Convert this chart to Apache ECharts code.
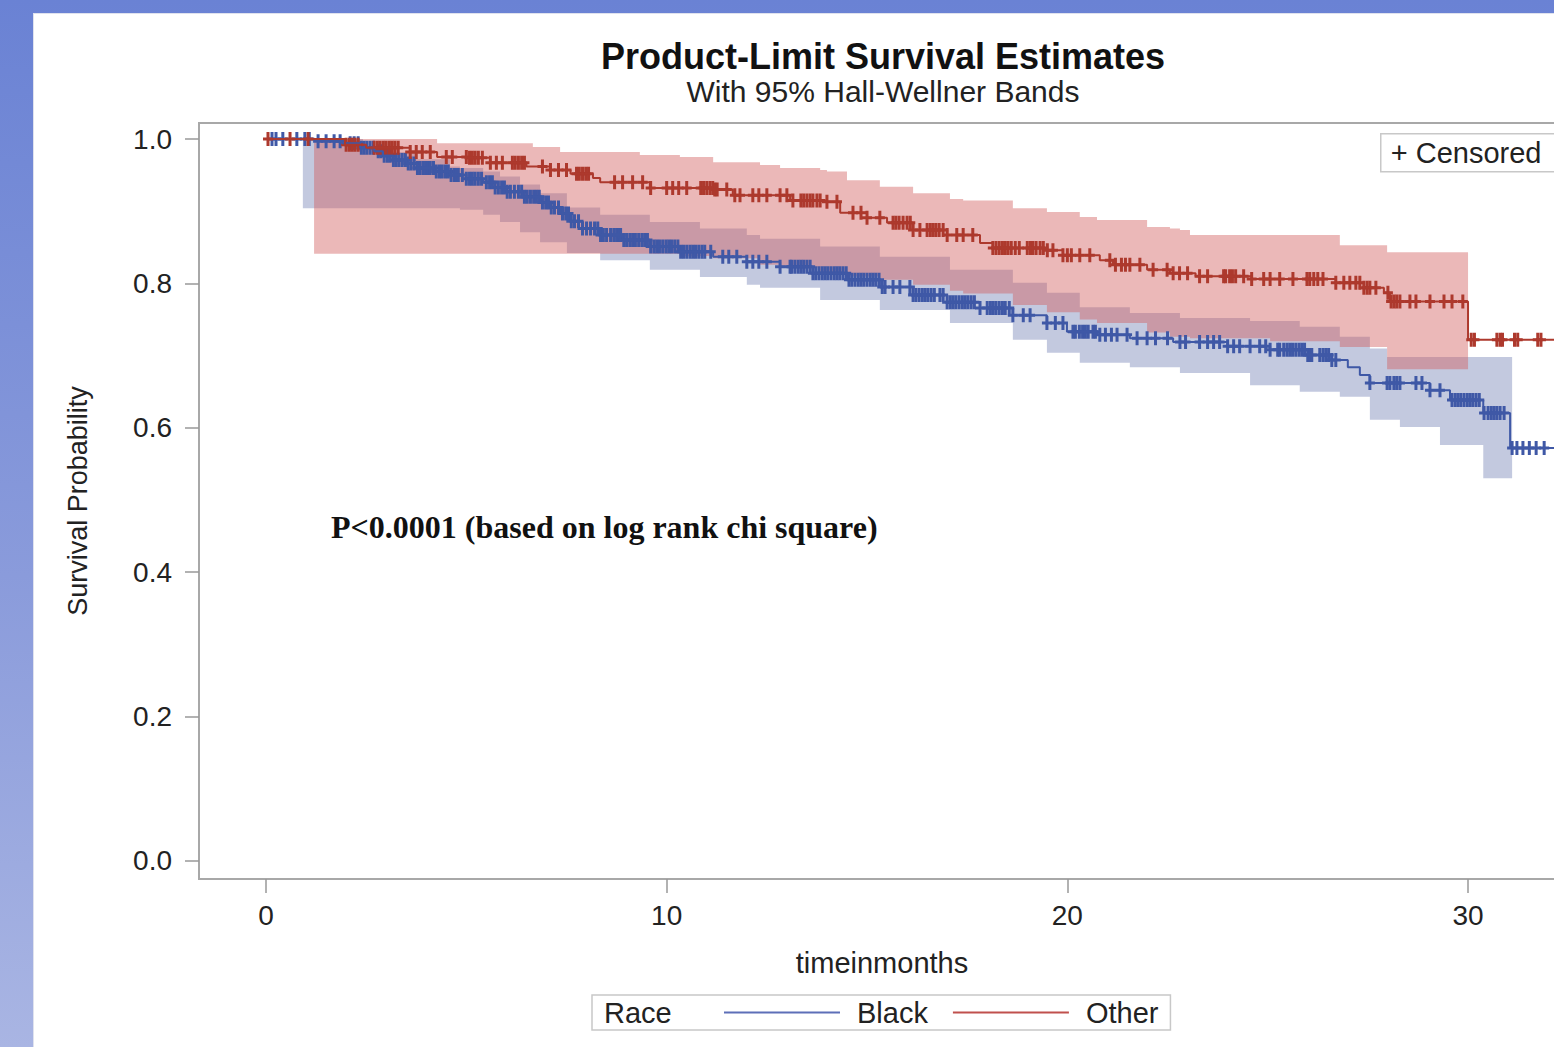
<!DOCTYPE html>
<html><head><meta charset="utf-8">
<script src="https://cdn.jsdelivr.net/npm/echarts@6/dist/echarts.min.js"></script>
<style>
html,body{margin:0;padding:0;width:1554px;height:1047px;overflow:hidden;}
body{background:linear-gradient(to bottom,#6a82d4 0%,#8a9bdb 55%,#a9b5e3 100%);}
#panel{position:absolute;left:33px;top:13px;right:0;bottom:0;background:#fff;border-left:1px solid #dfe2ee;border-top:1px solid #dfe2ee;}
#chart{position:absolute;left:0;top:0;width:1554px;height:1047px;}
</style></head><body><div id="panel"></div><div id="chart"></div>
<script>
// ---- Data ----
const xTicks = [0, 10, 20, 30];
const yTicks = [0, 0.2, 0.4, 0.6, 0.8, 1.0];

// Black: Kaplan-Meier step points (time in months, survival)
const blackTimes = [0, 1.3, 1.9, 2.35, 2.7, 2.92, 3.17, 3.5, 3.77, 4.2, 4.59, 5.0, 5.42, 5.7, 6.0, 6.4, 6.84, 7.1, 7.34, 7.6, 7.9, 8.34, 8.9, 9.58, 10.33, 11.16, 12.0, 12.83, 13.65, 14.5, 15.32, 16.15, 17.0, 17.82, 18.64, 19.49, 19.99, 20.74, 21.56, 22.64, 24.0, 25.06, 26.0, 26.55, 27.0, 27.3, 27.55, 29.05, 29.55, 30.38, 31.05, 32.3];
const blackSurv  = [1.0, 0.997, 0.994, 0.988, 0.983, 0.977, 0.971, 0.966, 0.960, 0.955, 0.950, 0.945, 0.940, 0.933, 0.927, 0.920, 0.912, 0.905, 0.897, 0.886, 0.876, 0.867, 0.860, 0.851, 0.844, 0.837, 0.830, 0.823, 0.814, 0.805, 0.795, 0.784, 0.774, 0.766, 0.756, 0.745, 0.733, 0.729, 0.724, 0.719, 0.713, 0.708, 0.701, 0.694, 0.684, 0.673, 0.662, 0.652, 0.6385, 0.6205, 0.572, 0.572];
const blackCensored = [0.15, 0.25, 0.42, 0.77, 0.97, 1.08, 1.3, 1.5, 1.7, 1.85,
  2.1, 2.2, 2.3, 2.38, 2.45, 2.52, 2.6, 2.68, 2.8, 2.87, 2.95, 3.03, 3.1, 3.18, 3.25, 3.32, 3.4, 3.48, 3.55, 3.62, 3.7, 3.78, 3.85, 3.93, 4.0, 4.05, 4.1, 4.18, 4.25, 4.33, 4.4, 4.48, 4.55, 4.62, 4.7, 4.75, 4.8, 4.9, 5.0, 5.08, 5.15, 5.22, 5.3, 5.38, 5.5, 5.58, 5.65, 5.72, 5.8, 5.88, 5.95, 6.02, 6.1, 6.2, 6.3, 6.38, 6.45, 6.52, 6.6, 6.68, 6.75, 6.82, 6.9, 6.98, 7.05, 7.12, 7.2, 7.3, 7.4, 7.48, 7.55, 7.62, 7.7, 7.8, 7.9, 8.0, 8.1, 8.2, 8.28, 8.35, 8.42, 8.5, 8.6, 8.68, 8.75, 8.8, 8.85, 8.93, 9.0, 9.08, 9.15, 9.22, 9.3, 9.38, 9.45, 9.52, 9.6, 9.68, 9.75, 9.82, 9.9, 9.98, 10.05, 10.12, 10.2, 10.28, 10.35, 10.42, 10.5, 10.58, 10.65, 10.72, 10.8, 10.88, 10.95, 11.1,
  11.4, 11.55, 11.75, 12.0, 12.15, 12.3, 12.5, 12.83, 13.08, 13.12, 13.2, 13.28, 13.35, 13.42, 13.5, 13.58, 13.65, 13.72, 13.8, 13.88, 13.95, 14.02, 14.1, 14.18, 14.25, 14.32, 14.4, 14.48, 14.55, 14.62, 14.7, 14.78, 14.85, 14.92, 15.0, 15.08, 15.15, 15.22, 15.3, 15.38, 15.45, 15.65, 15.82, 16.07, 16.15, 16.22, 16.3, 16.38, 16.45, 16.52, 16.6, 16.68, 16.82, 16.9, 17.0, 17.08, 17.15, 17.22, 17.3, 17.38, 17.45, 17.52, 17.6, 17.68, 17.82, 18.0, 18.08, 18.15, 18.22, 18.3, 18.38, 18.45, 18.55, 18.64, 18.9, 19.07, 19.49, 19.7, 19.89, 20.14, 20.2, 20.3, 20.38, 20.45, 20.52, 20.64, 20.7, 20.81, 20.95, 21.1, 21.24, 21.49, 21.74, 21.99, 22.2, 22.5, 22.81,
  22.95, 23.3, 23.5, 23.65, 23.8, 24.0, 24.15, 24.3, 24.56, 24.8, 24.95, 25.06, 25.25, 25.3, 25.4, 25.48, 25.55, 25.62, 25.7, 25.78, 25.85, 25.92, 26.0, 26.05, 26.1, 26.3, 26.38, 26.45, 26.52, 26.6, 26.7, 27.55, 27.98, 28.05, 28.15, 28.22, 28.3, 28.7, 28.85, 29.05, 29.3, 29.6, 29.68, 29.75, 29.82, 29.9, 29.98, 30.05, 30.12, 30.2, 30.28, 30.4, 30.5, 30.58, 30.65, 30.72, 30.8, 30.9,
  31.1, 31.22, 31.37, 31.53, 31.7, 31.9];
// Black: Hall-Wellner band (step start times, lower, upper), band ends at blackBandEnd
const blackBandTimes = [0.92, 2.42, 2.92, 3.77, 4.59, 4.84, 5.42, 5.84, 6.34, 6.84, 7.51, 8.34, 9.58, 10.83, 12.0, 12.33, 13.83, 15.32, 17.07, 18.64, 19.49, 20.31, 21.56, 22.81, 24.56, 25.8, 26.8, 27.55, 27.98, 28.3, 29.3, 30.38];
const blackLower = [0.904, 0.904, 0.904, 0.904, 0.904, 0.902, 0.895, 0.885, 0.871, 0.857, 0.842, 0.832, 0.819, 0.809, 0.798, 0.794, 0.777, 0.763, 0.745, 0.722, 0.704, 0.690, 0.684, 0.676, 0.659, 0.650, 0.643, 0.611, 0.611, 0.601, 0.576, 0.530];
const blackUpper = [1.0, 0.99, 0.982, 0.972, 0.962, 0.960, 0.955, 0.948, 0.937, 0.925, 0.905, 0.895, 0.885, 0.876, 0.867, 0.862, 0.851, 0.837, 0.819, 0.801, 0.787, 0.767, 0.759, 0.752, 0.748, 0.740, 0.726, 0.710, 0.698, 0.698, 0.698, 0.698];
const blackBandEnd = 31.1;

// Other
const otherTimes = [0, 1.97, 2.5, 3.59, 4.27, 5.02, 5.59, 6.5, 7.1, 7.6, 8.16, 8.34, 9.58, 11.16, 11.65, 13.08, 14.0, 14.33, 15.0, 15.5, 16.15, 17.0, 17.82, 18.14, 19.49, 19.89, 20.81, 21.14, 21.99, 22.56, 23.2, 24.6, 26.7, 27.4, 27.9, 28.05, 30.0, 32.3];
const otherSurv  = [1.0, 0.992, 0.988, 0.982, 0.975, 0.974, 0.967, 0.962, 0.957, 0.952, 0.946, 0.940, 0.932, 0.930, 0.922, 0.915, 0.913, 0.898, 0.891, 0.884, 0.874, 0.867, 0.856, 0.849, 0.846, 0.839, 0.832, 0.826, 0.819, 0.814, 0.810, 0.806, 0.801, 0.794, 0.787, 0.775, 0.722, 0.722];
const otherCensored = [0.05, 0.6, 1.05, 2.0, 2.08, 2.15, 2.22, 2.3, 2.7, 2.78, 2.85, 2.93, 3.0, 3.08, 3.15, 3.22, 3.3, 3.6, 3.75, 3.9, 4.1, 4.5, 4.65, 5.0, 5.08, 5.15, 5.22, 5.3, 5.4, 5.6, 5.75, 5.9, 6.15, 6.22, 6.3, 6.38, 6.45, 6.9, 7.1, 7.3, 7.5, 7.75, 7.82, 7.9, 7.98, 8.05, 8.7, 8.9, 9.15, 9.4, 9.6, 10.0, 10.15, 10.3, 10.5, 10.85, 10.92, 11.0, 11.08, 11.15, 11.2, 11.26, 11.5, 11.7, 11.83, 12.15, 12.3, 12.5, 12.83, 13.0, 13.15, 13.35, 13.42, 13.5, 13.58, 13.65, 13.75, 13.83, 14.0, 14.25, 14.65, 14.85, 15.0, 15.32, 15.65, 15.72, 15.8, 15.9, 16.0, 16.08, 16.15, 16.32, 16.5, 16.58, 16.65, 16.72, 16.8, 16.9, 17.0, 17.24, 17.4, 17.64, 18.14, 18.22, 18.3, 18.38, 18.45, 18.52, 18.6, 18.7, 18.8, 19.0, 19.08, 19.14, 19.22, 19.32, 19.4, 19.5, 19.64, 19.89, 20.0, 20.1, 20.31, 20.56, 21.06, 21.2, 21.35, 21.45, 21.56, 21.81, 22.14, 22.49, 22.64, 22.8, 23.0, 23.3, 23.5, 23.9, 23.95, 24.05, 24.12, 24.2, 24.4, 24.6, 24.9, 25.06, 25.3, 25.63, 25.98, 26.05, 26.15, 26.25, 26.38, 26.7, 26.9, 27.05, 27.2, 27.3, 27.4, 27.48, 27.55, 27.7, 28.0, 28.08, 28.15, 28.22, 28.3, 28.55, 28.7, 29.05, 29.4, 29.6, 29.87, 30.08, 30.16, 30.72, 30.8, 30.86, 31.16, 31.24, 31.74, 31.82];
const otherBandTimes = [1.2, 4.27, 6.66, 7.34, 9.33, 10.33, 11.16, 12.33, 12.83, 13.83, 14.0, 14.5, 15.32, 16.15, 17.07, 17.4, 18.64, 19.49, 20.31, 20.74, 21.99, 22.56, 22.81, 23.06, 25.06, 26.8, 27.98];
const otherLower = [0.841, 0.841, 0.841, 0.841, 0.841, 0.838, 0.835, 0.826, 0.822, 0.815, 0.813, 0.810, 0.805, 0.798, 0.790, 0.786, 0.770, 0.760, 0.750, 0.745, 0.732, 0.726, 0.726, 0.724, 0.720, 0.712, 0.681];
const otherUpper = [1.0, 0.994, 0.989, 0.982, 0.978, 0.975, 0.968, 0.964, 0.960, 0.957, 0.955, 0.943, 0.934, 0.925, 0.917, 0.915, 0.904, 0.899, 0.892, 0.888, 0.878, 0.876, 0.874, 0.867, 0.867, 0.853, 0.843];
const otherBandEnd = 30.0;

// ---- Chart ----
const FONT = '"Liberation Sans", Arial, sans-serif';
const BLUE = '#3f58a6', RED = '#ad392d';
const BLUE_BAND = 'rgba(111,126,179,0.42)', RED_BAND = 'rgba(208,91,91,0.43)';
const PLUS = 'path://M3.5,0H6.5V5.5H10V8.5H6.5V14H3.5V8.5H0V5.5H3.5Z';

function survAt(times, surv, t) {
  let v = surv[0];
  for (let i = 0; i < times.length; i++) { if (times[i] <= t) v = surv[i]; else break; }
  return v;
}
function bandSeries(name, times, lower, upper, tEnd, color) {
  return {
    type: 'custom', name: name, silent: true,
    data: [[times[0], lower[0]]],
    renderItem: function (params, api) {
      if (params.dataIndex !== 0) return null;
      const pts = [];
      for (let i = 0; i < times.length; i++) {
        const t1 = i + 1 < times.length ? times[i + 1] : tEnd;
        pts.push(api.coord([times[i], upper[i]]), api.coord([t1, upper[i]]));
      }
      for (let i = times.length - 1; i >= 0; i--) {
        const t1 = i + 1 < times.length ? times[i + 1] : tEnd;
        pts.push(api.coord([t1, lower[i]]), api.coord([times[i], lower[i]]));
      }
      return { type: 'polygon', shape: { points: pts }, style: { fill: color } };
    }
  };
}
function kmLine(name, times, surv, color) {
  return { type: 'line', name: name, step: 'end', showSymbol: false, silent: true,
    data: times.map((t, i) => [t, surv[i]]),
    lineStyle: { color: color, width: 2 }, itemStyle: { color: color } };
}
function censSeries(name, cens, times, surv, color) {
  return { type: 'scatter', name: name, silent: true, symbol: PLUS, symbolSize: [10, 14],
    data: cens.map(t => [t, survAt(times, surv, t)]),
    itemStyle: { color: color, opacity: 1 } };
}

const chart = echarts.init(document.getElementById('chart'), null, { renderer: 'svg' });
chart.setOption({
  animation: false,
  backgroundColor: 'transparent',
  title: {
    text: 'Product-Limit Survival Estimates',
    subtext: 'With 95% Hall-Wellner Bands',
    left: 883, top: 38, textAlign: 'center', padding: 0, itemGap: 2,
    textStyle: { fontSize: 36, fontWeight: 'bold', color: '#111', fontFamily: FONT },
    subtextStyle: { fontSize: 30, color: '#222', fontFamily: FONT }
  },
  grid: { left: 199, top: 123, width: 1366, height: 756, show: true, borderColor: '#a8a8a8', borderWidth: 2, containLabel: false, outerBoundsMode: 'none' },
  xAxis: {
    type: 'value', min: -1.672, max: 32.42,
    splitLine: { show: false },
    axisLine: { show: true, onZero: false, lineStyle: { color: '#a8a8a8', width: 2 } },
    axisTick: { show: true, length: 14, customValues: xTicks, lineStyle: { color: '#999', width: 1.5 } },
    axisLabel: { customValues: xTicks, fontSize: 28, color: '#222', margin: 22, fontFamily: FONT },
    name: 'timeinmonths', nameLocation: 'middle', nameGap: 69,
    nameTextStyle: { fontSize: 29, color: '#222', fontFamily: FONT }
  },
  yAxis: {
    type: 'value', min: -0.025, max: 1.0222,
    splitLine: { show: false },
    axisLine: { show: true, onZero: false, lineStyle: { color: '#a8a8a8', width: 2 } },
    axisTick: { show: true, length: 14, customValues: yTicks, lineStyle: { color: '#999', width: 1.5 } },
    axisLabel: { customValues: yTicks, formatter: v => v.toFixed(1), fontSize: 28, color: '#222', margin: 27, fontFamily: FONT },
    name: 'Survival Probability', nameLocation: 'middle', nameGap: 108, nameRotate: 90,
    nameTextStyle: { fontSize: 27, color: '#222', fontFamily: FONT }
  },
  legend: {
    left: 592, top: 995, orient: 'horizontal', selectedMode: false,
    padding: [3, 12, 3, 132], borderColor: '#c8c8c8', borderWidth: 1.5, backgroundColor: '#fff',
    itemWidth: 116, itemHeight: 2, itemGap: 25,
    textStyle: { fontSize: 29, color: '#222', fontFamily: FONT, padding: [0, 0, 0, 12] },
    data: [{ name: 'Black', icon: 'rect', itemStyle: { color: '#5d6fb8' } }, { name: 'Other', icon: 'rect', itemStyle: { color: '#c0504d' } }]
  },
  graphic: [
    { type: 'text', left: 604, top: 998, z: 100, style: { text: 'Race', fontSize: 29, fill: '#222', fontFamily: FONT } },
    { type: 'group', left: 1380, top: 133, z: 100, children: [
      { type: 'rect', shape: { x: 0, y: 0, width: 200, height: 38 }, style: { fill: '#fff', stroke: '#c8c8c8', lineWidth: 1.5 } },
      { type: 'text', x: 10, y: 19, style: { text: '+ Censored', fontSize: 29, fill: '#222', fontFamily: FONT, verticalAlign: 'middle' } }
    ] },
    { type: 'text', left: 331, top: 511, z: 100, style: { text: 'P<0.0001 (based on log rank chi square)', fontSize: 32, fontWeight: 'bold', fill: '#111', fontFamily: '"Liberation Serif", "Times New Roman", serif' } }
  ],
  series: [
    bandSeries('Black band', blackBandTimes, blackLower, blackUpper, blackBandEnd, BLUE_BAND),
    bandSeries('Other band', otherBandTimes, otherLower, otherUpper, otherBandEnd, RED_BAND),
    kmLine('Black', blackTimes, blackSurv, BLUE),
    kmLine('Other', otherTimes, otherSurv, RED),
    censSeries('Black censored', blackCensored, blackTimes, blackSurv, BLUE),
    censSeries('Other censored', otherCensored, otherTimes, otherSurv, RED)
  ]
});
</script></body></html>
